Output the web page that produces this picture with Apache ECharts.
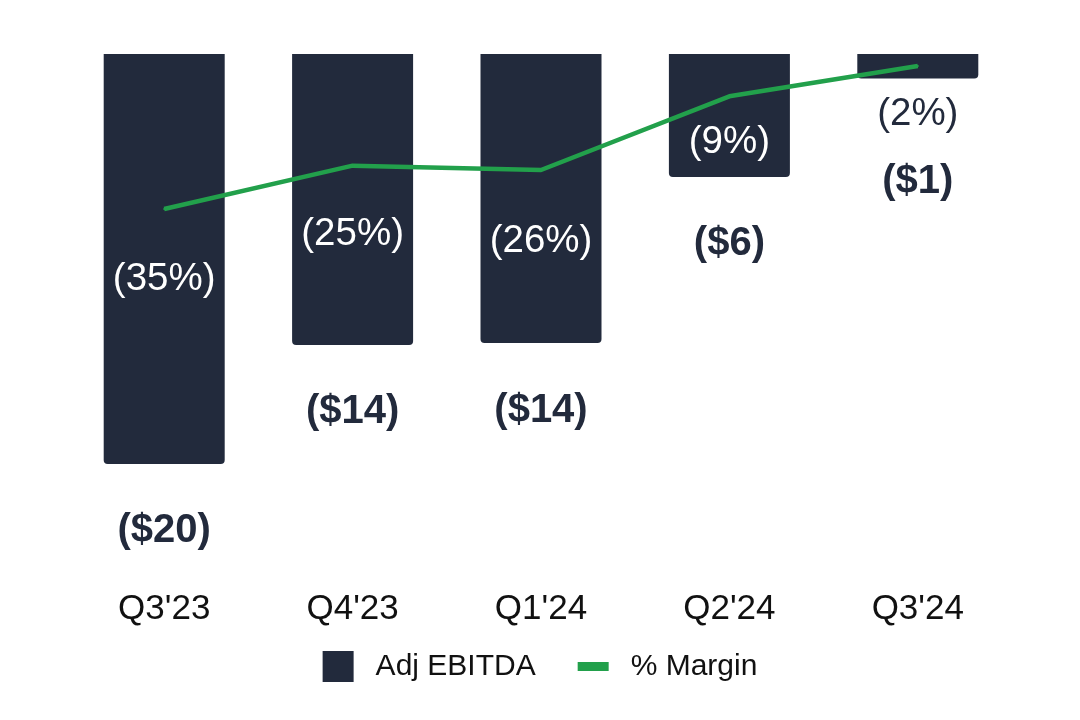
<!DOCTYPE html>
<html>
<head>
<meta charset="utf-8">
<script src="https://cdn.jsdelivr.net/npm/echarts@6/dist/echarts.min.js"></script>
<style>
html,body{margin:0;padding:0;background:#fff;}
#chart{width:1080px;height:720px;}
</style>
</head>
<body>
<div id="chart"></div>
<script>
const categories = ["Q3'23", "Q4'23", "Q1'24", "Q2'24", "Q3'24"];
const ebitda = [-20, -14.2, -14.1, -6.0, -1.2];
const ebitdaLabels = ["($20)", "($14)", "($14)", "($6)", "($1)"];
const margin = [-35, -25, -26, -9, -2];
const marginLabels = ["(35%)", "(25%)", "(26%)", "(9%)", "(2%)"];

const NAVY = '#222a3c';
const GREEN = '#22a04b';
const FONT = '"Liberation Sans", Arial, Helvetica, sans-serif';

const barLabelDistance = [47, 47, 48, 47, 83];
const lineLabelOffset = [70, 69, 71, 46, 48];
const lineLabelColor = ['#fff', '#fff', '#fff', '#fff', NAVY];

const chart = echarts.init(document.getElementById('chart'));
chart.setOption({
  animation: false,
  backgroundColor: '#fff',
  grid: {left: 70, right: 68, top: 54, bottom: 133},
  legend: {
    left: 'center',
    top: 646,
    itemWidth: 31,
    itemHeight: 31,
    itemGap: 42,
    textStyle: {fontSize: 30, color: '#111', fontFamily: FONT, padding: [0, 0, 0, 17]},
    data: [
      {name: 'Adj EBITDA', icon: 'rect', itemStyle: {color: NAVY}},
      {name: '% Margin', icon: 'path://M0,0 H31 V9 H0 Z', itemStyle: {color: GREEN, borderWidth: 0}}
    ]
  },
  xAxis: {
    type: 'category',
    data: categories,
    axisLine: {show: false},
    axisTick: {show: false},
    axisLabel: {fontSize: 35, lineHeight: 35, color: '#111', fontFamily: FONT, margin: 5}
  },
  yAxis: [
    {type: 'value', min: -26, max: 0, show: false, splitLine: {show: false}},
    {type: 'value', min: -122.2, max: 0.76, show: false, splitLine: {show: false}}
  ],
  series: [
    {
      name: 'Adj EBITDA',
      type: 'bar',
      barWidth: 121,
      yAxisIndex: 0,
      itemStyle: {color: NAVY, borderRadius: [0, 0, 4, 4]},
      data: ebitda.map((v, i) => ({
        value: v,
        label: {
          show: true,
          position: 'bottom',
          distance: barLabelDistance[i],
          formatter: ebitdaLabels[i],
          fontSize: 40,
          lineHeight: 40,
          fontWeight: 'bold',
          color: NAVY,
          fontFamily: FONT
        }
      }))
    },
    {
      name: '% Margin',
      type: 'line',
      yAxisIndex: 1,
      symbol: 'circle',
      symbolSize: 2,
      showSymbol: true,
      lineStyle: {color: GREEN, width: 4.5},
      itemStyle: {color: GREEN},
      z: 5,
      data: margin.map((v, i) => ({
        value: v,
        label: {
          show: true,
          position: 'inside',
          offset: [0, lineLabelOffset[i]],
          formatter: marginLabels[i],
          fontSize: 38.5,
          lineHeight: 38,
          color: lineLabelColor[i],
          fontFamily: FONT
        }
      }))
    }
  ]
});
</script>
</body>
</html>
